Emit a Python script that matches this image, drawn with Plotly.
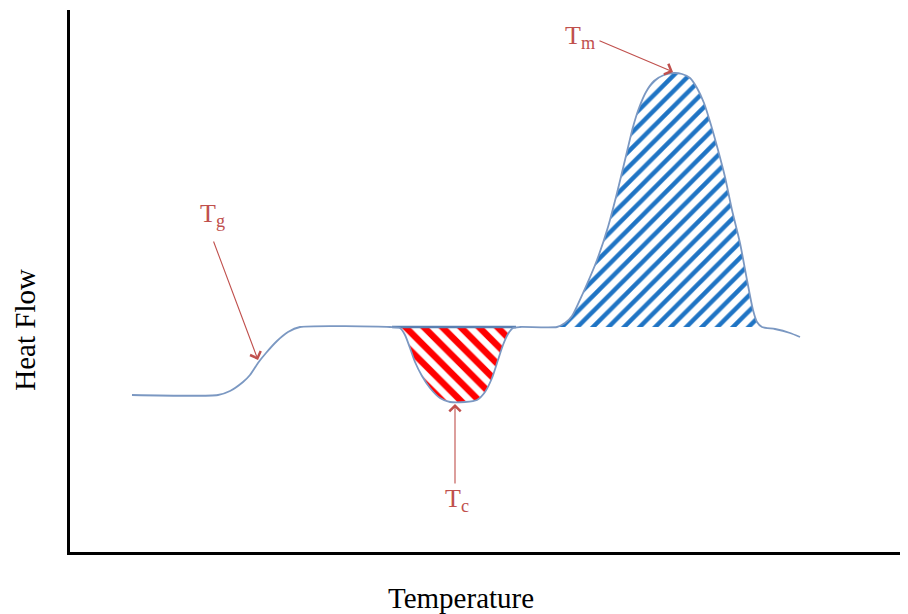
import plotly.graph_objects as go

# Schematic DSC curve (arbitrary units)
temperature = [63, 149, 161, 174, 181, 189, 197, 208, 219, 231,
               321, 331, 336, 341, 346, 353, 361, 371, 381, 396, 408, 416, 423, 429, 434, 439, 444, 451,
               488, 496, 503, 514, 528, 539, 548, 556, 564, 570, 577, 585, 595, 605, 613, 621, 628,
               635, 642, 649, 656, 663, 671, 678, 684, 688, 693,
               706, 721, 731]
heat_flow = [158, 158, 162, 171, 178, 190, 200, 212, 221, 226,
             226, 225, 218, 205, 191, 177, 165, 155, 151, 151, 153, 161, 175, 193, 208, 219, 225, 226,
             226, 230, 237, 260, 293, 326, 360, 393, 426, 445, 461, 472, 478, 480, 479, 475, 465,
             450, 428, 403, 376, 343, 310, 273, 243, 231, 226,
             224, 220, 216]

cryst_start, cryst_end = 10, 27   # crystallization exotherm (Tc)
melt_start, melt_end = 28, 54     # melting endotherm (Tm)

labels = {"Tg": "T<sub>g</sub>", "Tc": "T<sub>c</sub>", "Tm": "T<sub>m</sub>"}
label_pos = {"Tg": (143, 338), "Tc": (388, 53), "Tm": (511, 516)}
arrow_tail = {"Tg": (144, 313), "Tc": (386, 68), "Tm": (529, 513)}
arrow_head = {"Tg": (189, 193), "Tc": (386, 149), "Tm": (604, 481)}

line_color = "#7b98c2"
base_color = "#5a80b2"
arrow_color = "#c0504d"
serif = "Liberation Serif"

fig = go.Figure()

fig.add_trace(go.Scatter(
    x=temperature[cryst_start:cryst_end + 1],
    y=heat_flow[cryst_start:cryst_end + 1],
    mode="lines", fill="toself", line=dict(width=0, shape="spline"),
    fillcolor="white",
    fillpattern=dict(shape="\\", fgcolor="#ff0000", bgcolor="white", fgopacity=1,
                     size=13, solidity=0.5),
    hoverinfo="skip", showlegend=False))

fig.add_trace(go.Scatter(
    x=temperature[melt_start:melt_end + 1],
    y=heat_flow[melt_start:melt_end + 1],
    mode="lines", fill="toself", line=dict(width=0, shape="spline"),
    fillcolor="white",
    fillpattern=dict(shape="/", fgcolor="#1f74c4", bgcolor="white", fgopacity=1,
                     size=11, solidity=0.4),
    hoverinfo="skip", showlegend=False))

# baseline closing the crystallization area
fig.add_trace(go.Scatter(
    x=[temperature[cryst_start] + 2, temperature[cryst_end] - 4],
    y=[heat_flow[cryst_start], heat_flow[cryst_end]],
    mode="lines", line=dict(color=base_color, width=2.5),
    hoverinfo="skip", showlegend=False))

fig.add_trace(go.Scatter(
    x=temperature, y=heat_flow, mode="lines",
    line=dict(color=line_color, width=1.8, shape="spline", smoothing=0.6),
    hoverinfo="skip", showlegend=False))

annotations = []
for k in labels:
    hx, hy = arrow_head[k]
    tx, ty = arrow_tail[k]
    annotations.append(dict(x=hx, y=hy, ax=tx, ay=ty, xref="x", yref="y", axref="x", ayref="y",
                            text="", showarrow=True, arrowhead=4, arrowsize=2, arrowwidth=1.1,
                            arrowcolor=arrow_color))
    lx, ly = label_pos[k]
    annotations.append(dict(x=lx, y=ly, xref="x", yref="y", text=labels[k], showarrow=False,
                            xanchor="center", yanchor="middle",
                            font=dict(family=serif, size=26, color=arrow_color)))

annotations.append(dict(x=0.468, y=-0.085, xref="paper", yref="paper", text="Temperature",
                        showarrow=False, xanchor="center", yanchor="middle",
                        font=dict(family=serif, size=29, color="black")))
annotations.append(dict(x=-0.054, y=0.41, xref="paper", yref="paper", text="Heat Flow",
                        showarrow=False, textangle=-90, xanchor="center", yanchor="middle",
                        font=dict(family=serif, size=29, color="black")))

fig.update_layout(
    width=900, height=606,
    margin=dict(l=62, r=3, t=2, b=62),
    paper_bgcolor="white", plot_bgcolor="white",
    annotations=annotations,
    xaxis=dict(range=[1, 836], showgrid=False, zeroline=False, showticklabels=False, ticks="",
               showline=True, linecolor="black", linewidth=3),
    yaxis=dict(range=[1, 543], showgrid=False, zeroline=False, showticklabels=False, ticks="",
               showline=True, linecolor="black", linewidth=3),
)

fig.write_html("out.html")
